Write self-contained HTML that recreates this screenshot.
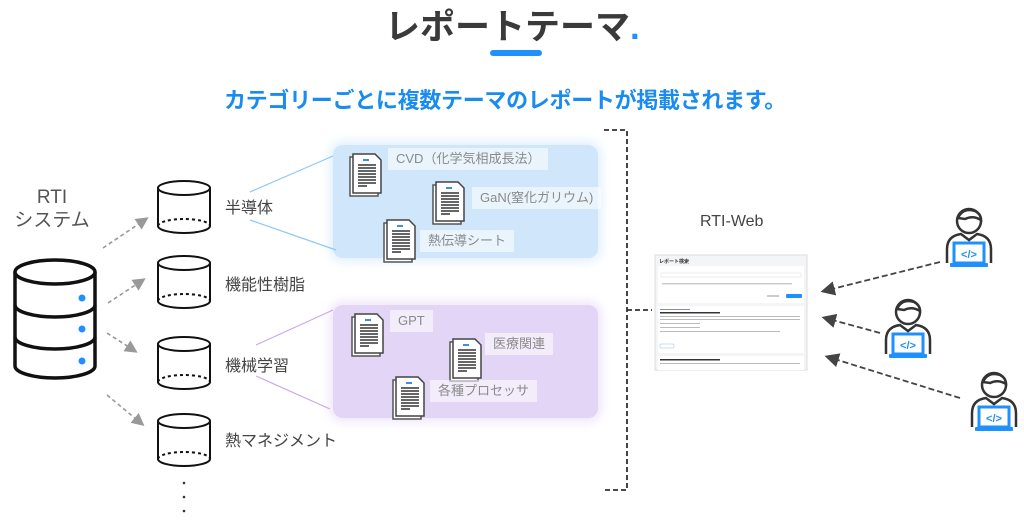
<!DOCTYPE html>
<html><head><meta charset="utf-8"><style>
body{margin:0;width:1024px;height:525px;background:#fff;position:relative;overflow:hidden;font-family:"Liberation Sans","Noto Sans CJK JP",sans-serif}
.a{position:absolute;white-space:nowrap}
.lbl{position:absolute;background:rgba(255,255,255,.55);color:#8a8a8a;font-size:13px;padding:2px 8px;line-height:18px}
.cat{position:absolute;font-size:16px;color:#444}
</style></head><body>
<div class="a" style="left:385px;top:-1px;font-size:35px;font-weight:bold;color:#3a3a3a">レポートテーマ<span style="color:#1e90ff">.</span></div>
<div class="a" style="left:490px;top:50px;width:52px;height:6px;border-radius:3px;background:#1e90ff"></div>
<div class="a" style="left:224px;top:83px;font-size:22px;font-weight:bold;color:#1a8cf0;letter-spacing:-0.3px">カテゴリーごとに複数テーマのレポートが掲載されます。</div>
<div class="a" style="left:10px;top:186px;width:84px;text-align:center;font-size:19px;color:#555;line-height:23px">RTI<br>システム</div>
<div class="a" style="left:333px;top:145px;width:265px;height:113px;background:#cfe6fb;border-radius:10px;box-shadow:0 0 10px 4px #e2f0fd"></div>
<div class="a" style="left:333px;top:305px;width:265px;height:113px;background:#e3d5f5;border-radius:10px;box-shadow:0 0 10px 4px #efe6fa"></div>
<svg class="a" style="left:0;top:0" width="1024" height="525">
<defs>
<marker id="ar" markerWidth="8" markerHeight="8" refX="6" refY="4" orient="auto"><path d="M0,0L8,4L0,8z" fill="#999"/></marker>
<marker id="ar2" markerWidth="8" markerHeight="8" refX="6" refY="4" orient="auto"><path d="M0,0L8,4L0,8z" fill="#444"/></marker>
<g id="cyl" fill="none" stroke="#111" stroke-width="2"><ellipse cx="27" cy="8" rx="26" ry="7"/><path d="M1,8V46A26,7 0 0 0 53,46V8"/><path d="M1,46A26,7 0 0 1 53,46" stroke-dasharray="3,3"/></g>
<g id="doc"><path d="M2,5H24L30,11V44H2z" fill="#fff" stroke="#555" stroke-width="1.5"/><path d="M5,2H27L33,8V41H5z" fill="#fff" stroke="#444" stroke-width="1.5"/><rect x="15" y="7" width="6" height="2" fill="#3a8fe0"/><g stroke="#333" stroke-width="1.6"><path d="M10,13h18M10,16h18M10,19h18M10,22h18M10,25h18M10,28h18M10,31h18M10,34h9"/></g></g>
<g id="usr"><circle cx="26" cy="18" r="12" fill="#fff" stroke="#333" stroke-width="2.5"/><path d="M15,15Q20,4 32,8Q38,11 38,17Q30,12 22,16Z" fill="#fff" stroke="#333" stroke-width="2.5"/><path d="M4,60V46Q4,33 18,31L26,37L34,31Q48,33 48,46V60" fill="#fff" stroke="#333" stroke-width="2.5"/><rect x="11" y="40" width="30" height="20" fill="#fff" stroke="#1e90ff" stroke-width="3"/><rect x="7" y="60" width="38" height="4" rx="1" fill="#1e90ff"/><text x="26" y="55" font-size="11" font-weight="bold" fill="#1e90ff" text-anchor="middle" font-family="Liberation Sans">&lt;/&gt;</text></g>
</defs>
<g fill="#fff" stroke="#111" stroke-width="3.5">
<path d="M15,272V366A40,12 0 0 0 95,366V272"/><ellipse cx="55" cy="272" rx="40" ry="12"/>
<path d="M15,305A40,12 0 0 0 95,305M15,337A40,12 0 0 0 95,337" fill="none"/>
</g>
<g fill="#1e90ff"><circle cx="82" cy="298" r="3.5"/><circle cx="82" cy="329" r="3.5"/><circle cx="82" cy="361" r="3.5"/></g>
<g stroke="#999" stroke-width="1.6" stroke-dasharray="4,3" marker-end="url(#ar)">
<line x1="103" y1="248" x2="146" y2="219"/><line x1="108" y1="303" x2="143" y2="280"/><line x1="107" y1="333" x2="135" y2="351"/><line x1="107" y1="395" x2="142" y2="424"/></g>
<use href="#cyl" x="157" y="180"/><use href="#cyl" x="157" y="255"/><use href="#cyl" x="157" y="336"/><use href="#cyl" x="157" y="413"/>
<g fill="#333"><circle cx="184" cy="483" r="1.3"/><circle cx="184" cy="497" r="1.3"/><circle cx="184" cy="511" r="1.3"/></g>
<g stroke="#8cc8f5" stroke-width="1.2"><line x1="250" y1="192" x2="333" y2="156"/><line x1="250" y1="220" x2="336" y2="250"/></g>
<g stroke="#c9a8ee" stroke-width="1.2"><line x1="256" y1="345" x2="333" y2="310"/><line x1="256" y1="376" x2="330" y2="409"/></g>
<use href="#doc" x="348" y="152"/><use href="#doc" x="431" y="180"/><use href="#doc" x="382" y="218"/>
<use href="#doc" x="350" y="312"/><use href="#doc" x="448" y="337"/><use href="#doc" x="391" y="375"/>
<g stroke="#333" stroke-width="1.8" stroke-dasharray="5,3" fill="none">
<path d="M604,130H627V490H604"/><path d="M627,310H652"/></g>
<g stroke="#444" stroke-width="1.8" stroke-dasharray="6,3" marker-end="url(#ar2)">
<line x1="940" y1="262" x2="824" y2="291"/><line x1="880" y1="333" x2="825" y2="318"/><line x1="960" y1="398" x2="828" y2="357"/></g>
<use href="#usr" x="943" y="203"/><use href="#usr" x="882" y="294"/><use href="#usr" x="968" y="367"/>
<g>
<rect x="655" y="255" width="152" height="115" fill="#f4f5f7" stroke="#ddd"/>
<text x="659" y="263" font-size="5" font-weight="bold" fill="#333" font-family="Noto Sans CJK JP">レポート検索</text>
<rect x="658" y="266" width="146" height="37" fill="#fff"/>
<rect x="661" y="273" width="140" height="4" fill="none" stroke="#ddd" stroke-width=".5"/>
<g fill="#ccc"><rect x="662" y="283" width="130" height="1.5"/></g>
<rect x="786" y="294" width="16" height="4" rx="1" fill="#1e90ff"/><rect x="767" y="295" width="12" height="2" fill="#ccc"/>
<rect x="658" y="306" width="146" height="47" fill="#fff"/>
<rect x="660" y="309" width="30" height="1" fill="#88b"/><rect x="660" y="312" width="60" height="1.5" fill="#333"/>
<g fill="#bbb"><rect x="660" y="316" width="140" height="1"/><rect x="660" y="319" width="140" height="1"/><rect x="660" y="323" width="40" height="1"/><rect x="660" y="327" width="40" height="1"/><rect x="660" y="331" width="120" height="1"/></g>
<rect x="660" y="344" width="14" height="4" rx="1" fill="none" stroke="#9bd" stroke-width=".5"/>
<rect x="658" y="356" width="146" height="14" fill="#fff"/>
<rect x="660" y="359" width="60" height="1.5" fill="#333"/><rect x="660" y="363" width="140" height="1" fill="#bbb"/>
</g>
</svg>
<div class="cat" style="left:225px;top:194px">半導体</div>
<div class="cat" style="left:225px;top:271px">機能性樹脂</div>
<div class="cat" style="left:225px;top:352px">機械学習</div>
<div class="cat" style="left:225px;top:427px">熱マネジメント</div>
<div class="lbl" style="left:388px;top:148px">CVD（化学気相成長法）</div>
<div class="lbl" style="left:472px;top:187px">GaN(窒化ガリウム)</div>
<div class="lbl" style="left:420px;top:230px">熱伝導シート</div>
<div class="lbl" style="left:390px;top:310px">GPT</div>
<div class="lbl" style="left:485px;top:333px">医療関連</div>
<div class="lbl" style="left:430px;top:380px">各種プロセッサ</div>
<div class="a" style="left:700px;top:213px;font-size:16px;color:#444">RTI-Web</div>
</body></html>
